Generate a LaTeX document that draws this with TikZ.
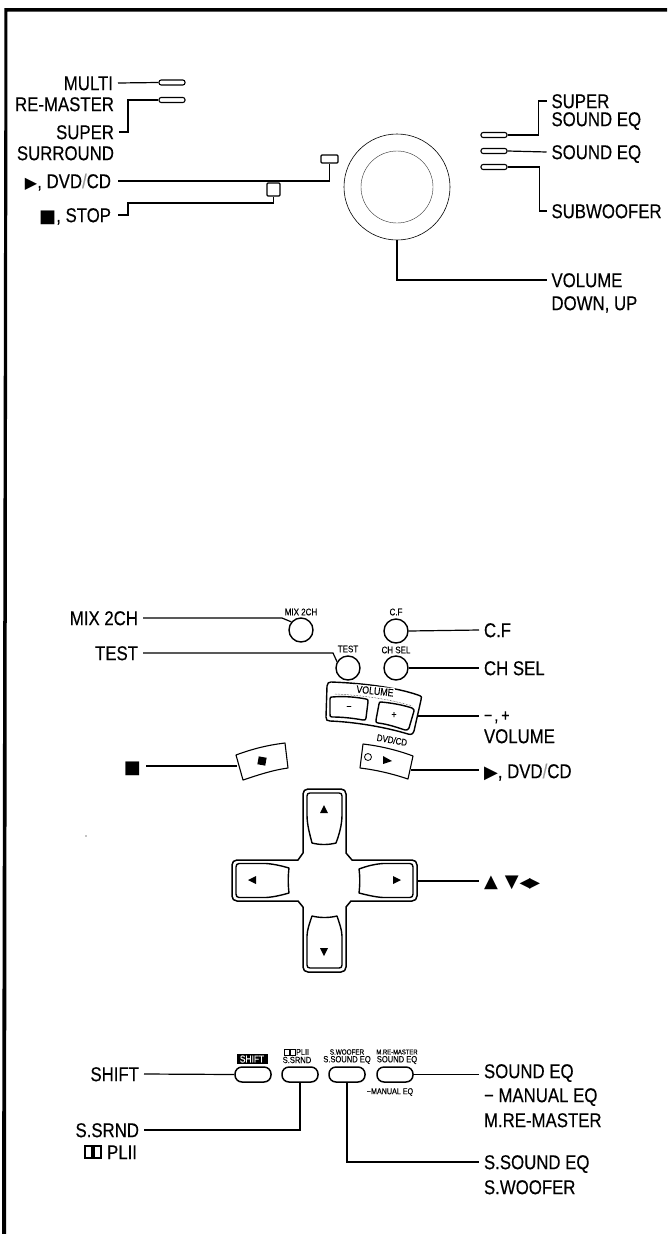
\documentclass[tikz,border=0pt]{standalone}
\usepackage{fontspec}
\setmainfont[FakeStretch=0.84,FakeBold=0.35]{Liberation Sans}
\newfontfamily\symf{DejaVu Sans}
\newcommand{\lab}{\fontsize{20}{20}\selectfont}
\newcommand{\smf}{\fontsize{9}{9}\selectfont}
\newcommand{\slh}{{\color{black!40}/}}
\tikzset{
  wire/.style={draw=black,line width=1.2pt},
  lt/.style={font=\lab,inner sep=0pt,outer xsep=5pt,text height=14.3pt,text depth=0pt,anchor=west},
  rt/.style={lt,anchor=east},
  slotb/.style={draw=black,line width=1.1pt,fill=white,rounded corners=2.2pt,minimum width=26pt,minimum height=5pt,inner sep=0pt},
  pill/.style={draw=black,line width=1.5pt,fill=white,rounded corners=7pt,minimum width=36pt,minimum height=15pt,inner sep=0pt},
  rbtn/.style={draw=black,line width=1.4pt,fill=white,circle,minimum size=24pt,inner sep=0pt},
  sq/.style={draw=black,line width=1.1pt,fill=white,inner sep=0pt,rounded corners=1pt},
  small/.style={font=\smf,inner sep=0pt},
  outl/.style={draw=black,line width=1.4pt,line join=round},
  inl/.style={draw=black,line width=1.4pt,line join=round}
}
\begin{document}
\begin{tikzpicture}[x=1pt,y=-1pt]
\useasboundingbox (0,0) rectangle (667,1234);
% frame
\fill[black] (4.5,8) -- (667,8) -- (667,11.5) -- (7.5,11.5) -- (6,1234) -- (2,1234) -- cycle;

% ---- top unit
\node[rt] (lMulti) at (118,83) {MULTI};
\node[rt] (lRe) at (119,104) {RE-MASTER};
\node[rt] (lSuper) at (119,132) {SUPER};
\node[rt] (lSurr) at (119,153) {SURROUND};
\node[rt] (lPlay) at (116,181) {{\symf\fontsize{16}{16}\selectfont ▶}, DVD\slh CD};
\node[rt] (lStop) at (116,215) {{\symf\fontsize{18}{18}\selectfont ■}, STOP};
\node[slotb] (sMulti) at (172,82.5) {};
\node[slotb] (sRe) at (172,100) {};
\node[sq,minimum width=17pt,minimum height=8pt] (bPlay) at (329.5,159) {};
\node[sq,minimum width=13pt,minimum height=13pt] (bStop) at (273.5,189.5) {};
\node[draw=black,line width=.6pt,circle,minimum size=106pt,inner sep=0pt] (dial) at (397,187) {};
\node[draw=black!80,line width=.4pt,circle,minimum size=72pt,inner sep=0pt] (dialin) at (397,187) {};
\node[slotb] (sSuper) at (494,135) {};
\node[slotb] (sSound) at (494,151) {};
\node[slotb] (sSub) at (494,167) {};
\node[lt] (rSuper) at (546.5,101) {SUPER};
\node[lt] (rSuper2) at (546.5,119) {SOUND EQ};
\node[lt] (rSound) at (546.5,152) {SOUND EQ};
\node[lt] (rSub) at (546.5,211) {SUBWOOFER};
\node[lt] (rVol) at (546.5,280) {VOLUME};
\node[lt] (rDown) at (546.5,303) {DOWN, UP};
\draw[wire] (lMulti.east) -- (sMulti.west);
\draw[wire] (lSuper.east) -- ++(9,0) |- (sRe.west);
\draw[wire] ([xshift=2pt]lPlay.east) -| (bPlay.south);
\draw[wire] ([xshift=2pt]lStop.east) -- ++(10,0) -- ++(0,-12) -| (bStop.south);
\draw[wire] (dial.south) |- (rVol.west);
\draw[wire] (sSuper.east) -- ++(31,0) |- (rSuper.west);
\draw[wire] (sSound.east) -- (rSound.west);
\draw[wire] (sSub.east) -- ++(32,0) |- (rSub.west);

% ---- remote upper
\node[rbtn] (bMix) at (301,630) {};
\node[rbtn] (bCF) at (396,631) {};
\node[rbtn] (bTest) at (348,668) {};
\node[rbtn] (bCh) at (396,668) {};
\node[small,font=\fontsize{9.5}{9.5}\selectfont] (tMix) at (301,612) {MIX 2CH};
\node[small,font=\fontsize{9.5}{9.5}\selectfont] (tCF) at (396,612) {C.F};
\node[small,font=\fontsize{9.5}{9.5}\selectfont] (tTest) at (348,649) {TEST};
\node[small,font=\fontsize{9.5}{9.5}\selectfont] (tCh) at (396,650) {CH SEL};
\node[rt] (lMix) at (143,618) {MIX 2CH};
\node[rt] (lTest) at (143,653) {TEST};
\node[lt] (rCF) at (479,630) {C.F};
\node[lt] (rCh) at (479,668) {CH SEL};
\node[lt,font=\fontsize{17}{17}\selectfont] (rPM) at (479,714) {−\kern2pt,\kern3pt +};
\node[lt] (rVol2) at (479,736) {VOLUME};
\node[lt] (rPlay) at (479,771) {{\symf\fontsize{18}{18}\selectfont ▶}, DVD\slh CD};
\node[rt] (lSq) at (146,766) {{\symf\fontsize{18}{18}\selectfont ■}};
\coordinate (mixE) at (282,618);
\coordinate (testE) at (333,653);
\draw[wire] (lMix.east) -- (mixE) -- (bMix.140);
\draw[wire] (lTest.east) -- (testE) -- (bTest.150);
\draw[wire] (bCF.east) -- (rCF.west);
\draw[wire] (bCh.east) -- (rCh.west);

% volume panel
\draw[outl,fill=white] (331,682) .. controls (360,683) and (395,687) .. (418,695) .. controls (422,696) and (422,698) .. (421,700)
  -- (414,731) .. controls (413,734) and (411,735) .. (408,734) .. controls (385,727) and (355,722) .. (330,721) .. controls (327,721) and (326,720) .. (326,717)
  -- (327,686) .. controls (327,683) and (329,682) .. (331,682) -- cycle;
\draw[line width=.5pt,densely dotted] (335,694) .. controls (360,695) and (390,699) .. (412,706);
\node[small,rotate=-6,fill=white,inner sep=1pt,font=\fontsize{10.5}{10.5}\selectfont] (tVol) at (375,691) {VOLUME};
\draw[outl] (332,697) .. controls (344,696) and (356,697) .. (366,699) .. controls (368,699) and (368,700) .. (368,702)
  -- (366,718) .. controls (366,720) and (365,720) .. (363,720) .. controls (352,718) and (342,717) .. (332,717) .. controls (330,717) and (330,716) .. (330,714)
  -- (330,699) .. controls (330,697) and (331,697) .. (332,697) -- cycle;
\draw[outl] (381,702) .. controls (392,703) and (403,705) .. (412,708) .. controls (414,709) and (414,710) .. (414,711)
  -- (409,728) .. controls (408,730) and (407,730) .. (405,730) .. controls (396,727) and (387,724) .. (378,723) .. controls (376,723) and (376,722) .. (376,720)
  -- (379,704) .. controls (379,702) and (380,702) .. (381,702) -- cycle;
\node[small,font=\fontsize{10}{10}\selectfont] (tMinus) at (349,708) {−};
\node[small,font=\fontsize{10}{10}\selectfont] (tPlus) at (394,715) {+};
\coordinate (volR) at (417,716);
\draw[wire] (volR) -- (rPM.west |- volR);

% stop and play buttons
\draw[outl,line width=1.1pt] (236,755) .. controls (252,749) and (268,745) .. (285,743) -- (288,768) .. controls (273,770) and (258,775) .. (243,780) -- cycle;
\node[fill=black,rotate=-10,minimum size=8pt,inner sep=0pt] (stopq) at (262,761) {};
\coordinate (stopL) at (237,766);
\draw[wire] (lSq.east) -- (stopL);
\draw[outl,line width=1.1pt] (363,744) .. controls (380,746) and (397,750) .. (413,756) -- (408,779) .. controls (393,774) and (377,770) .. (360,768) -- cycle;
\node[draw=black,line width=.8pt,circle,minimum size=7pt,inner sep=0pt] (led) at (368,757) {};
\fill[black] (383,756) -- (392,761) -- (383,764) -- cycle;
\node[small,rotate=-10,font=\fontsize{9.5}{9.5}\selectfont] (tDvd) at (392,740) {DVD/CD};
\coordinate (playR) at (411,770);
\draw[wire] (playR) -- (rPlay.west |- playR);
\fill[black] (86,836) circle (.7);

% cross pad
\draw[outl,line width=1.5pt] (308,789) -- (341,789) .. controls (344,789) and (346,791) .. (346,794) -- (346,853) -- (352,860) -- (412,860)
  .. controls (415,860) and (417,862) .. (417,865) -- (417,896) .. controls (417,899) and (415,901) .. (412,901) -- (351,901) -- (346,907) -- (346,967)
  .. controls (346,970) and (344,972) .. (341,972) -- (308,972) .. controls (305,972) and (303,970) .. (303,967) -- (303,907) -- (298,901) -- (237,901)
  .. controls (234,901) and (232,899) .. (232,896) -- (232,865) .. controls (232,862) and (234,860) .. (237,860) -- (298,860) -- (303,853) -- (303,794)
  .. controls (303,791) and (305,789) .. (308,789) -- cycle;
\draw[inl] (310,793) -- (339,793) .. controls (341,793) and (342,794) .. (342,796) -- (342,815) .. controls (342,825) and (339,835) .. (336,843)
  .. controls (328,845) and (320,845) .. (312,843) .. controls (310,835) and (307,825) .. (307,815) -- (307,796) .. controls (307,794) and (308,793) .. (310,793) -- cycle;
\draw[inl] (310,968) -- (339,968) .. controls (341,968) and (342,967) .. (342,965) -- (342,936) .. controls (342,930) and (339,922) .. (337,916)
  .. controls (329,918) and (320,918) .. (312,916) .. controls (310,922) and (307,930) .. (307,936) -- (307,965) .. controls (307,967) and (308,968) .. (310,968) -- cycle;
\draw[inl] (239,863.5) -- (266,863.5) .. controls (274,864) and (282,866) .. (289,868) .. controls (288,876) and (288,885) .. (289,893)
  .. controls (282,895) and (274,897) .. (266,897.5) -- (239,897.5) .. controls (237,897.5) and (236,896) .. (236,894) -- (236,867) .. controls (236,865) and (237,863.5) .. (239,863.5) -- cycle;
\draw[inl] (410,863.5) -- (383,863.5) .. controls (375,864) and (367,866) .. (359,869) .. controls (360,876) and (360,885) .. (359,893)
  .. controls (367,895) and (375,897) .. (383,897.5) -- (410,897.5) .. controls (412,897.5) and (413,896) .. (413,894) -- (413,867) .. controls (413,865) and (412,863.5) .. (410,863.5) -- cycle;
\fill[black] (320,813) -- (328,813) -- (324,805) -- cycle;
\fill[black] (320,948) -- (328,948) -- (324,956) -- cycle;
\fill[black] (256,876) -- (256,884) -- (248,880) -- cycle;
\fill[black] (393,876) -- (393,884) -- (401,880) -- cycle;
\coordinate (padR) at (417,881);
\node[lt,font=\symf\fontsize{18}{18}\selectfont] (rArrows) at (479,880) {▲\kern7pt▼\kern1pt{\fontsize{14}{14}\selectfont ◀\kern-1pt▶}};
\draw[wire] (padR) -- (rArrows.west |- padR);

% ---- bottom row
\node[pill] (bShift) at (253,1074.5) {};
\node[pill] (bSrnd) at (300,1074.5) {};
\node[pill] (bSnd) at (347,1074.5) {};
\node[pill] (bEq) at (395,1074.5) {};
\node[fill=black,text=white,inner xsep=1pt,inner ysep=1pt,minimum width=31pt,minimum height=10pt,font=\fontsize{10}{10}\selectfont] (tShift) at (252,1059) {SHIFT};
\node[small] (tSrnd) at (297,1060) {S.SRND};
\node[small] (tSnd) at (347,1060) {S.SOUND EQ};
\node[small] (tEq) at (397,1060) {SOUND EQ};
\node[small,font=\fontsize{7.5}{7.5}\selectfont] (tWoof) at (347,1052) {S.WOOFER};
\node[small,font=\fontsize{7}{7}\selectfont] (tMre) at (397,1052) {M.RE-MASTER};
\node[small,font=\fontsize{8.5}{8.5}\selectfont,anchor=west] (tPl) at (296,1052) {PLII};
\draw[line width=1pt] (284,1049) rectangle (289,1055) (290,1049) rectangle (295,1055);
\node[small,font=\fontsize{8.5}{8.5}\selectfont] (tMan) at (390,1092) {−MANUAL EQ};
\node[rt] (lShift) at (144,1074) {SHIFT};
\node[rt] (lSrnd) at (144,1130) {S.SRND};
\node[rt] (lPl) at (142,1152) {PLII};
\draw[line width=1.5pt] (85,1146) rectangle (92,1158) (94,1146) rectangle (101,1158);
\node[lt] (rEq) at (479,1071) {SOUND EQ};
\node[lt] (rMan) at (479,1095) {− MANUAL EQ};
\node[lt] (rMre) at (479,1120) {M.RE-MASTER};
\node[lt] (rSs) at (479,1162) {S.SOUND EQ};
\node[lt] (rSw) at (479,1187) {S.WOOFER};
\draw[wire] (lShift.east) -- (bShift.west);
\draw[wire] (bSrnd.south) |- (lSrnd.east);
\draw[wire] (bSnd.south) |- (rSs.west);
\draw[wire] (bEq.east) -- (rEq.west |- bEq.east);
\end{tikzpicture}
\end{document}
